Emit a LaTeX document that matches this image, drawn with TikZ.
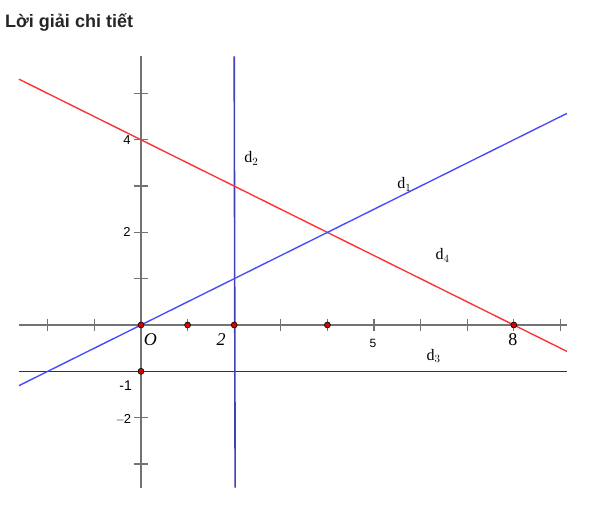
\documentclass[tikz,border=0pt]{standalone}
\usepackage{fontspec}
\setmainfont{Liberation Serif}
\newfontfamily\sansf{Liberation Sans}
\begin{document}
\begin{tikzpicture}[x=1pt,y=1pt,
  axisline/.style={draw=gray!90!black, line width=1.6pt},
  tickmark/.style={draw=gray!90!black, line width=1.3pt},
  redline/.style={draw=red!80!white, line width=1.4pt},
  blueline/.style={draw=blue!70!white, line width=1.4pt},
  dtwo/.style={draw=blue!50!gray, line width=1.6pt},
  dthree/.style={draw=black!80, line width=1.5pt},
  dotpt/.style={circle, fill=red!85!black, draw=black, line width=0.6pt, inner sep=0pt, minimum size=6pt},
  lab/.style={font=\fontsize{16}{16}\selectfont, inner sep=0pt},
  slab/.style={font=\sansf\fontsize{12}{12}\selectfont, inner sep=0pt}]
\useasboundingbox (0,0) rectangle (600,522);
\node[anchor=base west, font=\sansf\bfseries\fontsize{18}{18}\selectfont, text=black!85, inner sep=0pt] (title) at (5,494) {Lời giải chi tiết};
\begin{scope}[shift={(141,197)}, x=46.6pt, y=46.3pt]
  % axes
  \draw[axisline] (-2.62,0) -- (9.14,0);
  \draw[axisline] (0,-3.51) -- (0,5.8);
  \foreach \i in {-2,-1,1,2,3,4,5,6,7,8,9}
    \draw[tickmark] (\i,-6pt) -- (\i,6pt);
  \foreach \j in {-3,-2,1,2,3,4,5}
    \draw[tickmark] (-7pt,\j) -- (7pt,\j);
  % lines
  \draw[dthree] (-2.62,-1) -- (9.14,-1);
  \draw[dtwo] (2,5.8) -- (2.02,-3.51);
  \draw[redline] (-2.62,5.31) -- (9.14,-0.57);
  \draw[blueline] (-2.62,-1.31) -- (9.14,4.57);
  % points
  \node[dotpt] (p0) at (0,0) {};
  \node[dotpt] (p1) at (1,0) {};
  \node[dotpt] (p2) at (2,0) {};
  \node[dotpt] (p4) at (4,0) {};
  \node[dotpt] (p8) at (8,0) {};
  \node[dotpt] (pm) at (0,-1) {};
  % labels
  \node[lab, font=\itshape\fontsize{18}{18}\selectfont] (lo) at (0.2,-0.32) {O};
  \node[lab, font=\itshape\fontsize{18}{18}\selectfont] (l2) at (1.72,-0.31) {2};
  \node[lab, font=\fontsize{18}{18}\selectfont] (l8) at (7.98,-0.32) {8};
  \node[slab] (l5) at (4.98,-0.4) {5};
  \node[slab, font=\sansf\fontsize{14}{14}\selectfont] (lm1) at (-0.33,-1.3) {-1};
  \node[slab, font=\sansf\fontsize{13}{13}\selectfont] (lm2) at (-0.38,-2.04) {$-$\kern-1pt2};
  \node[slab, font=\sansf\fontsize{13}{13}\selectfont] (l4y) at (-0.3,4.0) {4};
  \node[slab, font=\sansf\fontsize{13}{13}\selectfont] (l2y) at (-0.3,2.0) {2};
  \node[lab] (d2) at (2.37,3.6) {d$_2$};
  \node[lab] (d1) at (5.65,3.03) {d$_1$};
  \node[lab] (d4) at (6.47,1.5) {d$_4$};
  \node[lab] (d3) at (6.28,-0.67) {d$_3$};
\end{scope}
\end{tikzpicture}
\end{document}
